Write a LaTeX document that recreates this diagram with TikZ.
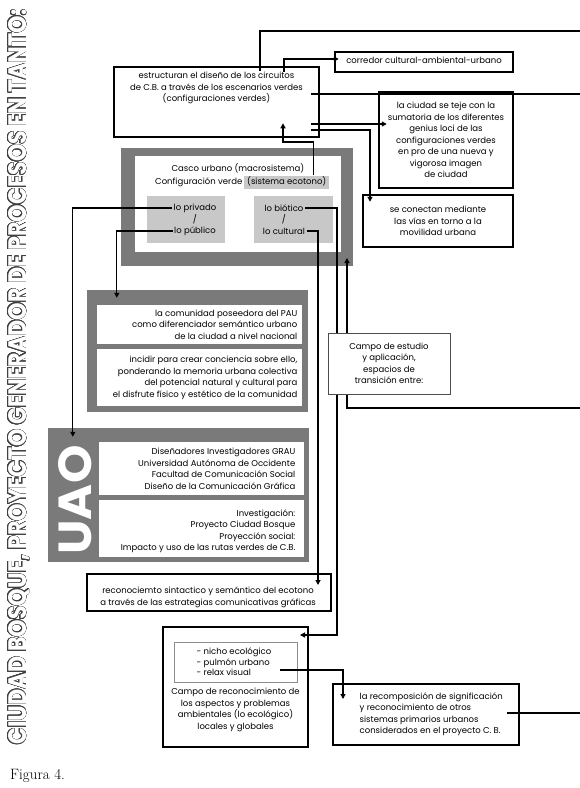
\documentclass[tikz,border=0pt]{standalone}
\usepackage{fontspec}
\usepackage{contour}
\usetikzlibrary{arrows.meta, positioning}
\newfontfamily\diagfont{Poppins}
\newfontfamily\titlefont{Poppins}
\newcommand{\diagsize}{\fontsize{8.5}{11.5}\selectfont}
\definecolor{framegray}{RGB}{122,122,122}
\definecolor{fieldgray}{RGB}{200,200,200}
\contourlength{0.45pt}
\contournumber{24}
\tikzstyle{thickbox} = [rectangle, draw=black, line width=2.5pt, fill=white, inner sep=0pt]
\tikzstyle{thinbox} = [rectangle, draw=black!70, line width=0.8pt, fill=white, inner sep=0pt]
\tikzstyle{frame} = [rectangle, fill=framegray, inner sep=0pt]
\tikzstyle{panel} = [rectangle, fill=white, inner sep=0pt]
\tikzstyle{field} = [rectangle, fill=fieldgray, inner sep=0pt]
\tikzstyle{txt} = [font=\diagfont\diagsize, align=center, inner sep=1.5pt]
\tikzstyle{rtxt} = [txt, align=right]
\tikzstyle{ltxt} = [txt, align=left]
\tikzstyle{arrow} = [line width=1.3pt, -{Triangle[length=5pt,width=5pt]}]
\tikzstyle{link} = [line width=1.3pt]

\begin{document}
\begin{tikzpicture}[x=1pt, y=-1pt]
\useasboundingbox (0,0) rectangle (580,788);

% title along the left edge
\node (title) [rotate=90, inner sep=0pt] at (19,377) {\resizebox{735pt}{18pt}{\titlefont\fontsize{20}{20}\selectfont\bfseries\contour{black!75}{\textcolor{white}{CIUDAD BOSQUE, PROYECTO GENERADOR DE PROCESOS EN TANTO:}}}};

% top boxes
\node (circuitos) [thickbox, minimum width=205pt, minimum height=70pt] at (216.5,102) {};
\node (circuitostxt) [txt, anchor=north] at (216.5,70.5) {estructuran el diseño de los circuitos\\de C.B. a través de los escenarios verdes\\(configuraciones verdes)};

\node (corredor) [thickbox, minimum width=178pt, minimum height=20pt] at (424,62) {};
\node (corredortxt) [txt] at (424,60) {corredor cultural-ambiental-urbano};

\node (teje) [thickbox, txt, minimum width=134pt, minimum height=96pt] at (446,140) {la ciudad se teje con la\\sumatoria de los diferentes\\genius loci de las\\configuraciones verdes\\en pro de una nueva y\\vigorosa imagen\\de ciudad};

\node (mediante) [thickbox, txt, minimum width=150pt, minimum height=52pt] at (438,221) {se conectan mediante\\las vías en torno a la\\movilidad urbana};

% casco urbano
\node (casco) [frame, minimum width=232pt, minimum height=118pt] at (237,207) {};
\node (cascopanel) [panel, minimum width=206pt, minimum height=96pt] at (238,204) {};
\node (macro) [txt] at (238,168) {Casco urbano (macrosistema)};
\node (verde) [txt, anchor=base east] at (244,184) {Configuración verde};
\node (ecotono) [txt, fill=fieldgray, anchor=base west, inner xsep=3pt, text height=7pt, text depth=3pt] at (244,184) {(sistema ecotono)};

\node (privbox) [field, minimum width=78pt, minimum height=47pt] at (186,219.5) {};
\node (biobox) [field, minimum width=79pt, minimum height=47pt] at (293.5,219.5) {};
\node (privado) [txt] at (195,208) {lo privado};
\node (slashpriv) [txt] at (195,219.5) {/};
\node (publico) [txt] at (195,231) {lo público};
\node (biotico) [txt] at (284,208) {lo biótico};
\node (slashbio) [txt] at (284,219.5) {/};
\node (cultural) [txt] at (284,231) {lo cultural};

% comunidad
\node (pau) [frame, minimum width=221pt, minimum height=122pt] at (197.5,351) {};
\node (paupanel) [panel, minimum width=205pt, minimum height=39pt] at (199.5,324.5) {};
\node (concpanel) [panel, minimum width=205pt, minimum height=57pt] at (199.5,377.5) {};
\node (pautxt) [rtxt, anchor=east] at (299,324.5) {la comunidad poseedora del PAU\\como diferenciador semántico urbano\\de la ciudad a nivel nacional};
\node (conctxt) [rtxt, anchor=east] at (299,378) {incidir para crear conciencia sobre ello,\\ponderando la memoria urbana colectiva\\del potencial natural y cultural para\\el disfrute físico y estético de la comunidad};

% UAO
\node (uaoframe) [frame, minimum width=261pt, minimum height=134pt] at (178.5,495) {};
\node (graupanel) [panel, minimum width=205pt, minimum height=53pt] at (201.5,468) {};
\node (ciudadpanel) [panel, minimum width=205pt, minimum height=57pt] at (201.5,528.5) {};
\node (grautxt) [rtxt, anchor=east] at (297,469) {Diseñadores Investigadores GRAU\\Universidad Autónoma de Occidente\\Facultad de Comunicación Social\\Diseño de la Comunicación Gráfica};
\node (proytxt) [rtxt, anchor=east] at (297,531) {Investigación:\\Proyecto Ciudad Bosque\\Proyección social:\\Impacto y uso de las rutas verdes de C.B.};
\node (uao) [rotate=90, text=white, inner sep=0pt] at (75,500) {\resizebox{109pt}{33pt}{\titlefont\bfseries UAO}};

\node (recon) [thickbox, minimum width=244pt, minimum height=37pt] at (209,592.5) {};
\node (recontxt) [txt] at (208,597.5) {reconociemto sintactico y semántico del ecotono\\a través de las estrategias comunicativas gráficas};

% bottom boxes
\node (ecologico) [thickbox, minimum width=145pt, minimum height=120pt] at (235.5,687) {};
\node (nichobox) [thinbox, draw=black!45, minimum width=123pt, minimum height=40pt] at (235.5,662) {};
\node (nichotxt) [ltxt, anchor=west, font=\diagfont\fontsize{8.5}{10.5}\selectfont] at (195,662) {- nicho ecológico\\- pulmón urbano\\- relax visual};
\node (ecotxt) [txt] at (235.5,710) {Campo de reconocimiento de\\los aspectos y problemas\\ambientales (lo ecológico)\\locales y globales};

\node (recomp) [thickbox, minimum width=186pt, minimum height=61pt] at (426,714.5) {};
\node (recomptxt) [ltxt, anchor=west] at (358,714) {la recomposición de significación\\y reconocimiento de otros\\sistemas primarios urbanos\\considerados en el proyecto C. B.};

\node (figura) [anchor=base west, font=\fontsize{15}{15}\selectfont, inner sep=0pt] at (10,779) {Figura 4.};

% connectors
\coordinate (edge1) at (580,31);
\coordinate (edge2) at (580,94);
\coordinate (edge3) at (580,408);
\coordinate (edge4) at (580,713);
\coordinate (upbend) at (283,142);
\coordinate (cascoin) at (347,258);
\coordinate (bioturn) at (337,635);
\coordinate (ecoin) at (300,635);
\coordinate (reconin) at (318,585);
\coordinate (nichoout) at (280,670);
\coordinate (recompin) at (343,699);
\coordinate (recompout) at (507,713);

\draw [link] ([xshift=43.5pt,yshift=-5pt]circuitos.north) |- (edge1);
\draw [arrow] ([xshift=67.5pt,yshift=-6pt]circuitos.north) |- ([xshift=5pt,yshift=3pt]corredor.west);
\draw [link] ([xshift=-9pt,yshift=8pt]circuitos.east) -- (edge2);
\draw [arrow] ([xshift=-9pt,yshift=-22pt]circuitos.east) -- ([xshift=9pt,yshift=16pt]teje.west);
\draw [arrow] ([xshift=-9pt,yshift=-28pt]circuitos.east) -| ([xshift=-68pt,yshift=-8pt]mediante.north);
\draw [arrow] ([xshift=-16pt]ecotono.north east) |- (upbend) -- ([xshift=66.5pt,yshift=15pt]circuitos.south);

\draw [arrow] (privado.west) -| ([xshift=25pt,yshift=-9pt]uaoframe.north west);
\draw [arrow] (publico.west) -| ([xshift=30pt,yshift=-8pt]pau.north west);
\draw [arrow] (biotico.east) -| (bioturn) -- (ecoin);
\draw [arrow] (cultural.east) -| (reconin);
\draw [arrow] (edge3) -| (cascoin);
\draw [arrow] (nichoout) -| (recompin);
\draw [link] (recompout) -- (edge4);

\node (estudio) [thinbox, txt, minimum width=122pt, minimum height=61pt] at (389,363.5) {Campo de estudio\\y aplicación,\\espacios de\\transición entre:};
\end{tikzpicture}
\end{document}
